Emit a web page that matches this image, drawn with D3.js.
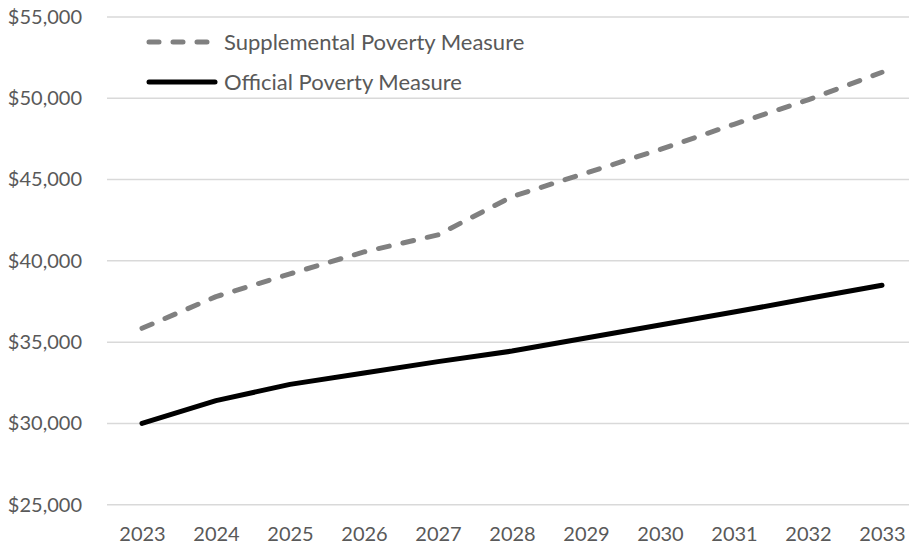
<!DOCTYPE html>
<html>
<head>
<meta charset="utf-8">
<script src="https://cdn.jsdelivr.net/npm/d3@7"></script>
<style>
  body { margin: 0; background: #fff; }
  text { font-family: Lato, "Open Sans", sans-serif; fill: #595959; }
</style>
</head>
<body>
<div id="canvas"></div>
<script>
const years = [2023, 2024, 2025, 2026, 2027, 2028, 2029, 2030, 2031, 2032, 2033];
const spm = [35850, 37800, 39200, 40550, 41600, 43950, 45400, 46850, 48400, 49900, 51600];
const opm = [30000, 31400, 32400, 33100, 33800, 34450, 35250, 36050, 36850, 37680, 38500];
const yTicks = [25000, 30000, 35000, 40000, 45000, 50000, 55000];
const seriesNames = ["Supplemental Poverty Measure", "Official Poverty Measure"];

const width = 909;
const height = 548;

const svg = d3.select("#canvas").append("svg")
    .attr("width", width)
    .attr("height", height);

const x = d3.scalePoint()
    .domain(years)
    .range([142, 882]);

const y = d3.scaleLinear()
    .domain([25000, 55000])
    .range([504.7, 17]);

// gridlines
svg.append("g")
    .selectAll("line")
    .data(yTicks)
    .enter().append("line")
    .attr("x1", 107)
    .attr("x2", width)
    .attr("y1", d => y(d))
    .attr("y2", d => y(d))
    .style("stroke", "#d9d9d9")
    .style("stroke-width", 1.5);

// y axis
const yAxis = svg.append("g")
    .attr("transform", "translate(90,0)")
    .call(d3.axisLeft(y).tickValues(yTicks).tickSize(0).tickPadding(8)
        .tickFormat(d => "$" + d3.format(",")(d)));
yAxis.select(".domain").remove();
yAxis.selectAll("text")
    .style("font-size", "20px")
    .style("font-family", "Lato, sans-serif")
    .attr("fill", "#595959");

// x axis
const xAxis = svg.append("g")
    .attr("transform", "translate(0,523)")
    .call(d3.axisBottom(x).tickSize(0).tickPadding(4).tickFormat(d => d));
xAxis.select(".domain").remove();
xAxis.selectAll("text")
    .style("font-size", "20px")
    .style("font-family", "Lato, sans-serif")
    .attr("fill", "#595959");

const line = d3.line()
    .x((d, i) => x(years[i]))
    .y(d => y(d));

svg.append("path")
    .datum(opm)
    .attr("d", line)
    .style("fill", "none")
    .style("stroke", "#000")
    .style("stroke-width", 5)
    .style("stroke-linecap", "round")
    .style("stroke-linejoin", "round");

svg.append("path")
    .datum(spm)
    .attr("d", line)
    .style("fill", "none")
    .style("stroke", "#808080")
    .style("stroke-width", 5)
    .style("stroke-linecap", "round")
    .style("stroke-linejoin", "round")
    .style("stroke-dasharray", "11,14");

// legend
const legend = svg.append("g");
legend.append("line")
    .attr("x1", 149).attr("x2", 207)
    .attr("y1", 42).attr("y2", 42)
    .style("stroke", "#808080")
    .style("stroke-width", 5)
    .style("stroke-linecap", "round")
    .style("stroke-dasharray", "10,14");
legend.append("line")
    .attr("x1", 149).attr("x2", 215)
    .attr("y1", 82).attr("y2", 82)
    .style("stroke", "#000")
    .style("stroke-width", 5)
    .style("stroke-linecap", "round");
legend.selectAll("text")
    .data(seriesNames)
    .enter().append("text")
    .attr("x", 224)
    .attr("y", (d, i) => 42 + i * 40)
    .attr("dy", "0.35em")
    .style("font-size", "22px")
    .text(d => d);
</script>
</body>
</html>
